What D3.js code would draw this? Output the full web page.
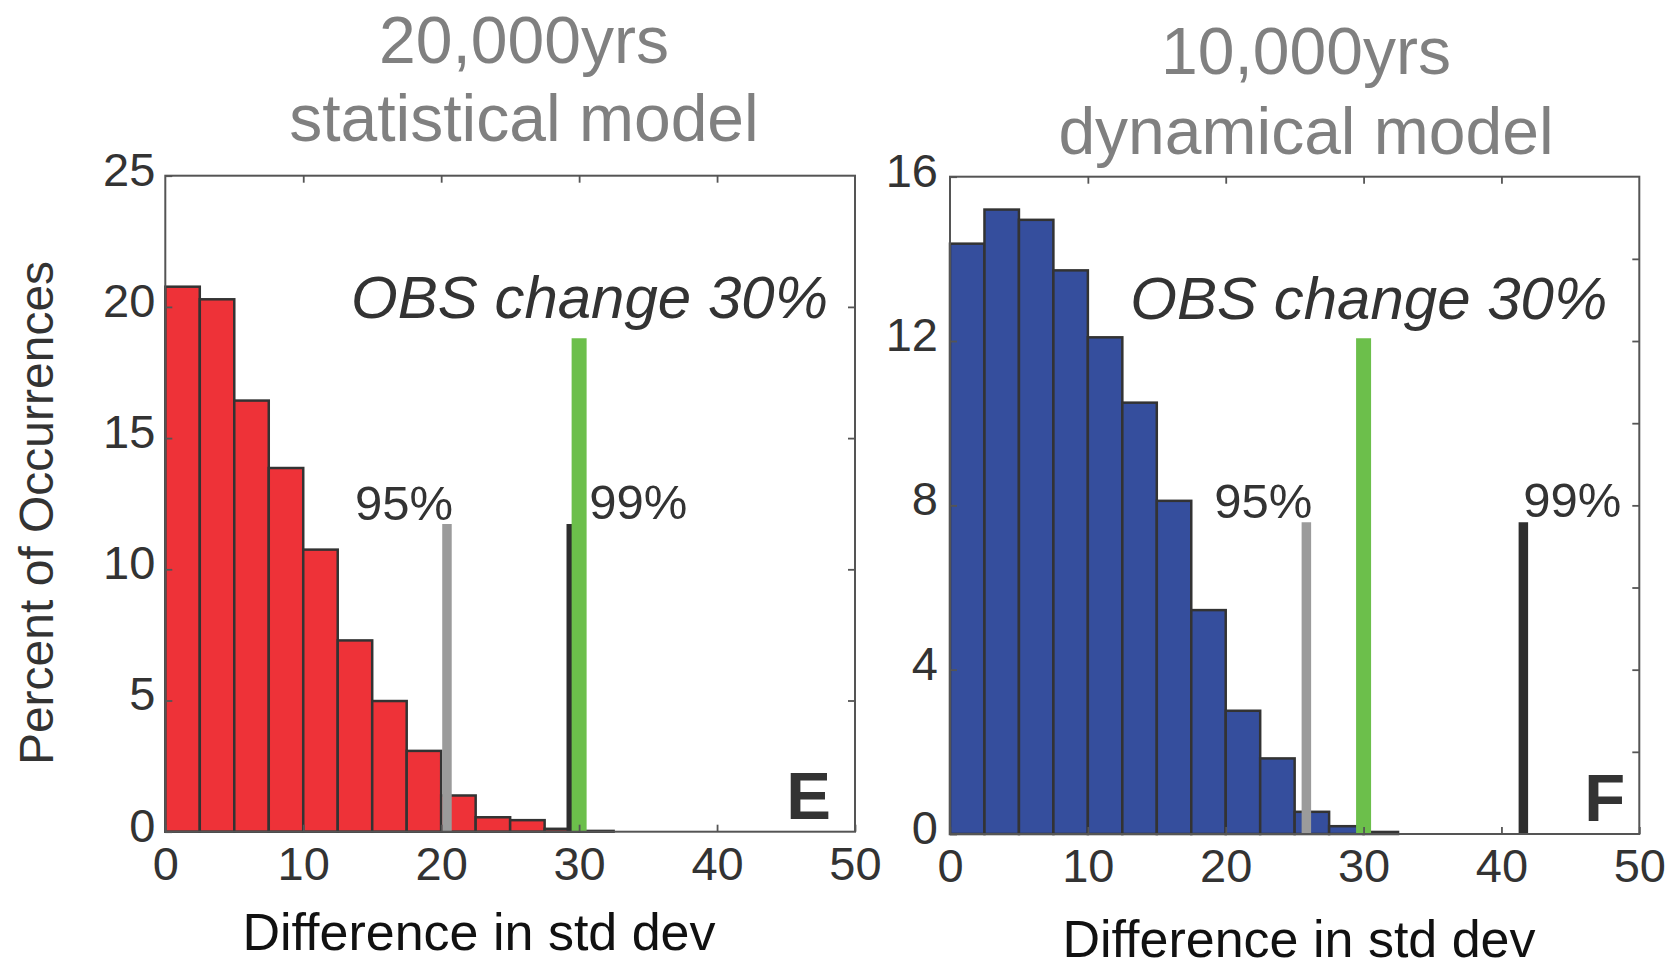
<!DOCTYPE html>
<html>
<head>
<meta charset="utf-8">
<script src="https://cdnjs.cloudflare.com/ajax/libs/d3/7.8.5/d3.min.js"></script>
<style>
  body { margin: 0; background: #fff; }
  svg text { font-family: "Liberation Sans", Arial, Helvetica, sans-serif; }
</style>
</head>
<body>
<div id="chart"></div>
<script>
// histogram bins (start of each 2.5 wide bin)
var binStarts = [0, 2.5, 5, 7.5, 10, 12.5, 15, 17.5, 20, 22.5, 25, 27.5, 30, 32.5, 35, 37.5, 40, 42.5, 45, 47.5];

// percent of occurrences per bin
var statValues = [20.77, 20.29, 16.43, 13.86, 10.75, 7.29, 4.98, 3.08, 1.38, 0.55, 0.44, 0.11, 0.03, 0, 0, 0, 0, 0, 0, 0];
var dynValues  = [14.37, 15.20, 14.95, 13.72, 12.09, 10.50, 8.11, 5.45, 3.00, 1.84, 0.54, 0.19, 0.05, 0, 0, 0, 0, 0, 0, 0];

// ticks
var xTicks = [0, 10, 20, 30, 40, 50];
var topTicks = [10, 20, 30, 40];
var statYTicks = [0, 5, 10, 15, 20, 25];
var statRightTicks = [5, 10, 15, 20];
var dynYTicks = [0, 4, 8, 12, 16];
var dynRightTicks = [2, 4, 6, 8, 10, 12, 14];

// marker lines: 95%, 99%, OBS change
var statMarkers = [20.42, 29.43, 30.0];
var statMarkerTops = [11.73, 11.73, 18.81];
var dynMarkers = [25.85, 41.59, 30.0];
var dynMarkerTops = [7.59, 7.59, 12.07];
var statLabel99 = 30.74;
var dynLabel99 = 41.59;


HistPanel = function(_svg, _opts){
    this.svg = _svg;
    this.opts = _opts;

    this.initVis();
}

HistPanel.prototype.initVis = function() {
    var vis = this;
    var o = vis.opts;

    vis.binWidth = binStarts[1] - binStarts[0];

    vis.g = vis.svg.append("g")
      .attr("transform", "translate(" + o.left + "," + o.top + ")");

    vis.x = d3.scaleLinear().domain([0, 50]).range([0, o.width]);
    vis.y = d3.scaleLinear().domain([0, o.yMax]).range([o.height, 0]);

    // bars
    vis.g.selectAll("rect.bar")
      .data(o.values)
      .enter()
      .append("rect")
      .attr("class", "bar")
      .attr("x", function(d, i){ return vis.x(binStarts[i]); })
      .attr("width", function(d, i){ return vis.x(binStarts[i] + vis.binWidth) - vis.x(binStarts[i]); })
      .attr("y", function(d){ return vis.y(d); })
      .attr("height", function(d){ return vis.y(0) - vis.y(d); })
      .attr("fill", o.color)
      .attr("stroke", "#333")
      .attr("stroke-width", 2.5);

    // 95%, 99%, OBS lines
    var lineColors = ["#9b9b9b", "#2e2e2e", "#6cbf4b"];
    var lineWidths = [9.5, 9.5, 15];
    vis.g.selectAll("line.marker")
      .data(o.markers)
      .enter()
      .append("line")
      .attr("class", "marker")
      .attr("x1", function(d){ return vis.x(d); })
      .attr("x2", function(d){ return vis.x(d); })
      .attr("y1", vis.y(0))
      .attr("y2", function(d, i){ return vis.y(o.markerTops[i]); })
      .attr("stroke", function(d, i){ return lineColors[i]; })
      .attr("stroke-width", function(d, i){ return lineWidths[i]; });

    // box
    vis.g.append("rect")
      .attr("width", o.width)
      .attr("height", o.height)
      .attr("fill", "none")
      .attr("stroke", "#555")
      .attr("stroke-width", 2);

    //axes
    vis.xAxis = vis.g.append("g")
      .attr("transform", "translate(0," + o.height + ")")
      .call(d3.axisBottom(vis.x).tickValues(xTicks).tickSizeInner(-7).tickSizeOuter(0).tickPadding(15));
    vis.g.append("g")
      .call(d3.axisTop(vis.x).tickValues(topTicks).tickSizeInner(-7).tickSizeOuter(0).tickFormat(""));
    vis.yAxis = vis.g.append("g")
      .call(d3.axisLeft(vis.y).tickValues(o.yTicks).tickSizeInner(-7).tickSizeOuter(0).tickPadding(o.yPad));
    vis.g.append("g")
      .attr("transform", "translate(" + o.width + ",0)")
      .call(d3.axisRight(vis.y).tickValues(o.rightTicks).tickSizeInner(-7).tickSizeOuter(0).tickFormat(""));

    vis.g.selectAll(".domain").remove();
    vis.g.selectAll(".tick line").attr("stroke", "#555").attr("stroke-width", 1.8);
    vis.g.selectAll(".tick text")
      .attr("fill", "#333")
      .style("font-size", "47px");
    vis.yAxis.selectAll(".tick text").attr("dy", "0.2em");

    // annotations
    vis.g.append("text")
      .attr("x", o.width - o.obsRight)
      .attr("y", 142.5)
      .attr("text-anchor", "end")
      .style("font-size", "60px")
      .style("font-style", "italic")
      .attr("fill", "#333")
      .text("OBS change 30%");

    vis.g.append("text")
      .attr("x", vis.x(o.markers[0]) + 6)
      .attr("y", vis.y(o.markerTops[0]) - 4)
      .attr("text-anchor", "end")
      .style("font-size", "49px")
      .attr("fill", "#333")
      .text("95%");

    vis.g.append("text")
      .attr("x", vis.x(o.label99))
      .attr("y", vis.y(o.markerTops[1]) - 5)
      .style("font-size", "49px")
      .attr("fill", "#333")
      .text("99%");

    vis.g.append("text")
      .attr("x", o.width - o.letterRight)
      .attr("y", o.height - 13)
      .attr("text-anchor", "end")
      .style("font-size", "67px")
      .style("font-weight", "bold")
      .attr("fill", "#333")
      .text(o.letter);

    // titles
    vis.svg.append("text")
      .attr("x", o.titleX)
      .attr("y", o.titleY[0])
      .attr("text-anchor", "middle")
      .style("font-size", "66px")
      .attr("fill", "#808080")
      .text(o.title[0]);
    vis.svg.append("text")
      .attr("x", o.titleX)
      .attr("y", o.titleY[1])
      .attr("text-anchor", "middle")
      .style("font-size", "66px")
      .attr("fill", "#808080")
      .text(o.title[1]);

    vis.svg.append("text")
      .attr("x", o.xLabelX)
      .attr("y", o.xLabelY)
      .attr("text-anchor", "middle")
      .style("font-size", "52px")
      .attr("fill", "#111")
      .text("Difference in std dev");
};


var svg = d3.select("#chart")
  .append("svg")
  .attr("width", 1677)
  .attr("height", 958);

var statPanel = new HistPanel(svg, {
    left: 165.3, top: 175.7, width: 689.7, height: 656,
    yMax: 25, values: statValues, color: "#ee3238",
    yTicks: statYTicks, rightTicks: statRightTicks, yPad: 10,
    markers: statMarkers, markerTops: statMarkerTops, label99: statLabel99,
    obsRight: 27, letter: "E", letterRight: 24,
    title: ["20,000yrs", "statistical model"], titleX: 524, titleY: [62.5, 141],
    xLabelX: 479, xLabelY: 950
});

var dynPanel = new HistPanel(svg, {
    left: 950, top: 176.7, width: 689.3, height: 657.3,
    yMax: 16, values: dynValues, color: "#354e9d",
    yTicks: dynYTicks, rightTicks: dynRightTicks, yPad: 12,
    markers: dynMarkers, markerTops: dynMarkerTops, label99: dynLabel99,
    obsRight: 32, letter: "F", letterRight: 14,
    title: ["10,000yrs", "dynamical model"], titleX: 1306, titleY: [74, 154],
    xLabelX: 1299, xLabelY: 957
});

// y label
svg.append("text")
  .attr("transform", "translate(53,513) rotate(-90)")
  .attr("text-anchor", "middle")
  .style("font-size", "48px")
  .attr("fill", "#333")
  .text("Percent of Occurrences");
</script>
</body>
</html>
